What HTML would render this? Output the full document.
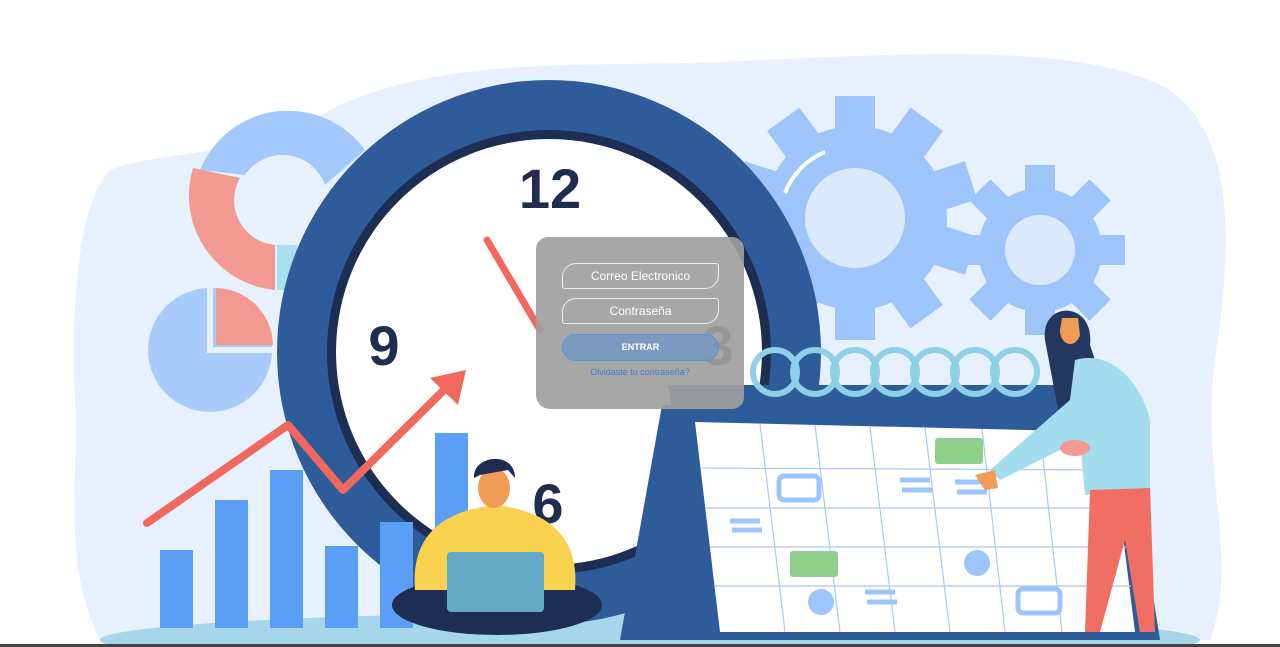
<!DOCTYPE html>
<html><head><meta charset="utf-8"><style>
html,body{margin:0;padding:0;width:1280px;height:647px;overflow:hidden;background:#fff}
.box{position:absolute;left:536px;top:237px;width:208px;height:172px;background:rgba(160,160,160,.92);border-radius:12px 12px 12px 14px;font-family:"Liberation Sans",sans-serif}
.in{position:absolute;left:26px;width:155px;height:24px;border:1px solid rgba(255,255,255,.8);border-radius:14px 3px 14px 3px;color:#fff;font-size:12px;text-align:center;line-height:24px}
.btn{position:absolute;left:26px;top:97px;width:155px;height:25px;border:1.5px solid #5b93d6;border-radius:14px;background:rgba(110,150,200,.75);color:#fff;font-size:9px;font-weight:bold;text-align:center;line-height:25px}
.lk{position:absolute;left:0;width:208px;top:130px;text-align:center;font-size:9px;color:#3a7ed4}
</style></head><body>
<svg width="1280" height="647" viewBox="0 0 1280 647" style="position:absolute;left:0;top:0">
<path d="M110 170 C160 150 240 160 330 110 C450 50 620 70 760 60 C900 55 1080 40 1170 90 C1240 140 1230 260 1215 360 C1200 470 1240 560 1210 640 L100 640 C60 560 80 470 75 400 C70 300 80 200 110 170Z" fill="#e6f1fd"/>
<ellipse cx="650" cy="640" rx="550" ry="28" fill="#a6d6ea"/>
<!-- donut -->
<path d="M200 170 A95 95 0 0 1 365 150 L325 185 A45 45 0 0 0 245 175Z" fill="#a3c9fb"/>
<path d="M193 168 A95 95 0 0 0 275 290 L275 245 A45 45 0 0 1 240 178Z" fill="#f29a91"/>
<rect x="277" y="245" width="20" height="45" fill="#a8dff0"/>
<!-- pie -->
<circle cx="210" cy="350" r="62" fill="#a8cbfb"/>
<path d="M216 288 A58 58 0 0 1 273 345 L216 345Z" fill="#f29a91"/>
<path d="M210 288 L210 350 L272 350" fill="none" stroke="#e6f1fd" stroke-width="6"/>
<!-- gears -->
<g fill="#9ec5fb">
<g transform="translate(855,218)"><circle r="92"/>
<g id="t"><rect x="-20" y="-122" width="40" height="40"/></g>
<use href="#t" transform="rotate(36)"/><use href="#t" transform="rotate(72)"/><use href="#t" transform="rotate(108)"/><use href="#t" transform="rotate(144)"/><use href="#t" transform="rotate(180)"/><use href="#t" transform="rotate(216)"/><use href="#t" transform="rotate(252)"/><use href="#t" transform="rotate(288)"/><use href="#t" transform="rotate(324)"/>
<circle r="50" fill="#dbe9fc"/><path d="M-70 -25 A72 72 0 0 1 -30 -66" stroke="#fff" stroke-width="4" fill="none"/></g>
<g transform="translate(1040,250)"><circle r="62"/>
<g id="s"><rect x="-15" y="-85" width="30" height="30"/></g>
<use href="#s" transform="rotate(45)"/><use href="#s" transform="rotate(90)"/><use href="#s" transform="rotate(135)"/><use href="#s" transform="rotate(180)"/><use href="#s" transform="rotate(225)"/><use href="#s" transform="rotate(270)"/><use href="#s" transform="rotate(315)"/>
<circle r="35" fill="#dbe9fc"/></g>
</g>
<!-- clock -->
<circle cx="549" cy="352" r="272" fill="#2e5b9a"/>
<circle cx="549" cy="352" r="222" fill="#1e2d52"/>
<circle cx="549" cy="352" r="213" fill="#fff"/>
<g font-family="Liberation Sans,sans-serif" font-weight="bold" fill="#1f2d4f" font-size="56" text-anchor="middle">
<text x="550" y="208">12</text><text x="384" y="365">9</text><text x="548" y="523">6</text><text x="718" y="365">3</text></g>
<line x1="487" y1="240" x2="540" y2="330" stroke="#f0685e" stroke-width="7" stroke-linecap="round"/>
<!-- bars -->
<g fill="#5b9ef5"><rect x="160" y="550" width="33" height="78"/><rect x="215" y="500" width="33" height="128"/><rect x="270" y="470" width="33" height="158"/><rect x="325" y="546" width="33" height="82"/><rect x="380" y="522" width="33" height="106"/><rect x="435" y="433" width="33" height="195"/></g>
<polyline points="147,523 288,425 343,490 450,384" fill="none" stroke="#f0685e" stroke-width="8" stroke-linejoin="round" stroke-linecap="round"/>
<polygon points="466,370 430,378 458,405" fill="#f0685e"/>
<!-- calendar stand -->
<polygon points="620,640 662,405 680,405 722,640" fill="#2e5b9a"/>
<polygon points="668,385 1120,385 1160,640 712,640" fill="#2e5b9a"/>
<polygon points="695,422 1110,432 1135,632 720,632" fill="#fff"/>
<g stroke="#a8c8f5" stroke-width="1.2" fill="none">
<line x1="700" y1="468" x2="1118" y2="470"/><line x1="705" y1="508" x2="1123" y2="508"/><line x1="710" y1="547" x2="1127" y2="547"/><line x1="715" y1="586" x2="1131" y2="586"/>
<line x1="760" y1="424" x2="785" y2="632"/><line x1="815" y1="425" x2="840" y2="632"/><line x1="870" y1="427" x2="895" y2="632"/><line x1="925" y1="428" x2="950" y2="632"/><line x1="982" y1="429" x2="1005" y2="632"/><line x1="1040" y1="430" x2="1062" y2="632"/></g>
<rect x="935" y="438" width="48" height="26" rx="3" fill="#8fcf8c"/><rect x="790" y="551" width="48" height="26" rx="3" fill="#8fcf8c"/>
<g fill="none" stroke="#9ec5fb" stroke-width="5"><rect x="779" y="476" width="40" height="24" rx="5"/><rect x="1018" y="589" width="42" height="24" rx="5"/>
<path d="M730 521h30M732 530h30M900 480h30M902 490h30M955 482h30M957 492h30M865 592h30M867 602h30"/></g>
<circle cx="977" cy="563" r="13" fill="#9ec5fb"/><circle cx="821" cy="602" r="13" fill="#9ec5fb"/>
<g fill="none" stroke="#8fd0e8" stroke-width="6"><circle cx="775" cy="372" r="22"/><circle cx="815" cy="372" r="22"/><circle cx="855" cy="372" r="22"/><circle cx="895" cy="372" r="22"/><circle cx="935" cy="372" r="22"/><circle cx="975" cy="372" r="22"/><circle cx="1015" cy="372" r="22"/></g>
<!-- woman -->
<path d="M1045 340 C1040 300 1095 300 1090 345 L1105 390 L1060 420Z" fill="#24375f"/>
<path d="M1060 330 C1060 345 1075 350 1080 335 L1078 318 L1062 318Z" fill="#f09c56"/>
<path d="M1075 360 C1110 350 1140 380 1150 420 L1150 490 L1085 495 L1080 440 L1000 480 L990 470 L1070 400Z" fill="#a3dcef"/>
<path d="M1090 490 L1150 488 L1155 632 L1140 632 L1125 540 L1100 632 L1085 632 Z" fill="#f06e62"/>
<ellipse cx="1075" cy="448" rx="15" ry="8" fill="#f29a91"/>
<path d="M975 475 L995 470 L998 488 L985 490Z" fill="#f09c56"/>
<!-- man -->
<ellipse cx="497" cy="605" rx="105" ry="30" fill="#1e2d52"/>
<path d="M415 590 C410 530 450 510 495 505 C540 510 580 530 575 590Z" fill="#f9d24f"/>
<rect x="447" y="552" width="97" height="60" rx="4" fill="#63a9c5"/>
<ellipse cx="494" cy="488" rx="16" ry="20" fill="#f09c56"/>
<path d="M474 478 C472 455 515 450 515 478 L508 470 L480 475Z" fill="#1e2d52"/>
<rect x="0" y="644" width="1280" height="3" fill="#444"/>
</svg>
<div class="box">
<div class="in" style="top:26px">Correo Electronico</div>
<div class="in" style="top:61px">Contraseña</div>
<div class="btn">ENTRAR</div>
<div class="lk">Olvidaste tu contraseña?</div>
</div>
</body></html>
